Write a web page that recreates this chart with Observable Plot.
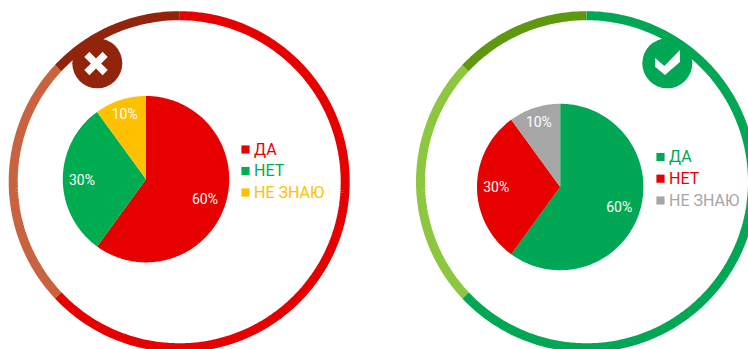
<!DOCTYPE html>
<html lang="ru">
<head>
<meta charset="utf-8">
<script src="https://cdn.jsdelivr.net/npm/d3@7"></script>
<script src="https://cdn.jsdelivr.net/npm/@observablehq/plot@0.6"></script>
<style>
  html, body { margin: 0; padding: 0; background: #fff; }
  svg { display: block; }
</style>
</head>
<body>
<script>
// Answer categories and their shares, in percent
const answers = ["ДА", "НЕТ", "НЕ ЗНАЮ"];
const shares = [60, 30, 10];
const shareLabels = ["60%", "30%", "10%"];

// Outer ring segments, clockwise from twelve o'clock, in percent of the circle
const ringShares = [63, 24, 13];

// Palettes of the two panels
const wrongPie = ["#e60000", "#00ac50", "#ffc000"];
const rightPie = ["#02a755", "#e60000", "#a6a6a6"];
const wrongRing = ["#e60000", "#c9623f", "#92240c"];
const rightRing = ["#02a755", "#8dc63f", "#5f9711"];

// Panel placement
const panels = [
  {cx: 146, cy: 179.2, rx: 179.2, ry: 181.7, pie: wrongPie, ring: wrongRing,
   badge: [97.3, 63.3], glyph: [96, 63.5], badgeColor: "#92240c", legendX: 245.5, legendY: [149.5, 171, 192.5]},
  {cx: 560.2, cy: 187, rx: 586.5, ry: 181.7, pie: rightPie, ring: rightRing,
   badge: [667.3, 63.3], glyph: [667.5, 62.5], badgeColor: "#02a755", legendX: 660.5, legendY: [157, 178.7, 200.5]}
];
const pieRadius = 83.2;
const ringRadius = 166;
const labelRadius = [62, 64, 69];

// Point on a circle, angle measured clockwise from the top
const polar = (cx, cy, r, a) => ({x: cx + r * Math.sin(a), y: cy - r * Math.cos(a)});

// Sampled arc between two angles
function arc(cx, cy, r, a0, a1) {
  const n = Math.ceil(Math.abs(a1 - a0) / (Math.PI / 180));
  return d3.range(n + 1).map(i => polar(cx, cy, r, a0 + (a1 - a0) * i / n));
}

// Consecutive [start, end] angle pairs for a list of shares
function spans(values) {
  const total = d3.sum(values);
  let acc = 0;
  return values.map(v => {
    const a0 = acc / total * 2 * Math.PI;
    acc += v;
    return [a0, acc / total * 2 * Math.PI];
  });
}

// Badge glyphs, scaled by the dot radius
const crossSymbol = {
  draw(context, size) {
    const r = Math.sqrt(size / Math.PI), t = r * 0.2, l = r * 0.72;
    const arm = [[-t, -l], [t, -l], [t, -t], [l, -t], [l, t], [t, t], [t, l], [-t, l], [-t, t], [-l, t], [-l, -t], [-t, -t]];
    const k = Math.SQRT1_2;
    arm.forEach(([x, y], i) => {
      const px = (x - y) * k, py = (x + y) * k;
      i ? context.lineTo(px, py) : context.moveTo(px, py);
    });
    context.closePath();
  }
};
const checkSymbol = {
  draw(context, size) {
    const r = Math.sqrt(size / Math.PI);
    const shape = [[-0.69, -0.25], [-0.17, 0.19], [0.69, -0.69], [0.69, -0.03], [-0.14, 0.69], [-0.69, 0.23]];
    shape.forEach(([x, y], i) => i ? context.lineTo(x * r, y * r) : context.moveTo(x * r, y * r));
    context.closePath();
  }
};

const font = "Roboto, sans-serif";
const marks = [];

for (const p of panels) {
  // Outer ring
  spans(ringShares).forEach(([a0, a1], i) => {
    marks.push(Plot.line(arc(p.rx, p.ry, ringRadius, a0, a1), {
      x: "x", y: "y", stroke: p.ring[i], strokeWidth: 9, strokeLinecap: "butt", strokeLinejoin: "miter"
    }));
  });

  // Pie slices and their labels
  const slices = spans(shares);
  slices.forEach(([a0, a1], i) => {
    const points = [{x: p.cx, y: p.cy}, ...arc(p.cx, p.cy, pieRadius, a0, a1)];
    marks.push(Plot.line(points, {x: "x", y: "y", fill: p.pie[i], stroke: "none", curve: "linear-closed"}));
  });
  slices.forEach(([a0, a1], i) => {
    const at = polar(p.cx, p.cy, labelRadius[i], (a0 + a1) / 2);
    marks.push(Plot.text([shareLabels[i]], {
      x: [at.x], y: [at.y], dy: 1, text: d => d, fill: "#fff", fontSize: 14, fontFamily: font, fontWeight: 400
    }));
  });

  // Legend
  const legend = answers.map((name, i) => ({name, color: p.pie[i], y: p.legendY[i]}));
  marks.push(Plot.dot(legend, {
    x: () => p.legendX, y: "y", symbol: "square", r: 4.6, fill: d => d.color, stroke: "none"
  }));
  marks.push(Plot.text(legend, {
    x: () => p.legendX + 8.5, y: "y", text: "name", fill: d => d.color,
    textAnchor: "start", fontSize: 16, fontFamily: font
  }));

  // Badge
  marks.push(Plot.dot([p.badge], {x: d => d[0], y: d => d[1], r: 25, fill: p.badgeColor, stroke: "none"}));
  marks.push(Plot.dot([p.glyph], {
    x: d => d[0], y: d => d[1], r: 18, fill: "#fff", stroke: "none",
    symbol: p.ring === wrongRing ? crossSymbol : checkSymbol
  }));
}

// The half-pixel shift in the domains cancels the crisp-edge offset Plot adds to marks
const chart = Plot.plot({
  width: 748,
  height: 349,
  margin: 0,
  x: {domain: [0.5, 748.5], range: [0, 748], axis: null},
  y: {domain: [0.5, 349.5], range: [0, 349], axis: null},
  color: {type: "identity"},
  style: {background: "#fff"},
  marks
});
document.body.appendChild(chart);
</script>
</body>
</html>
